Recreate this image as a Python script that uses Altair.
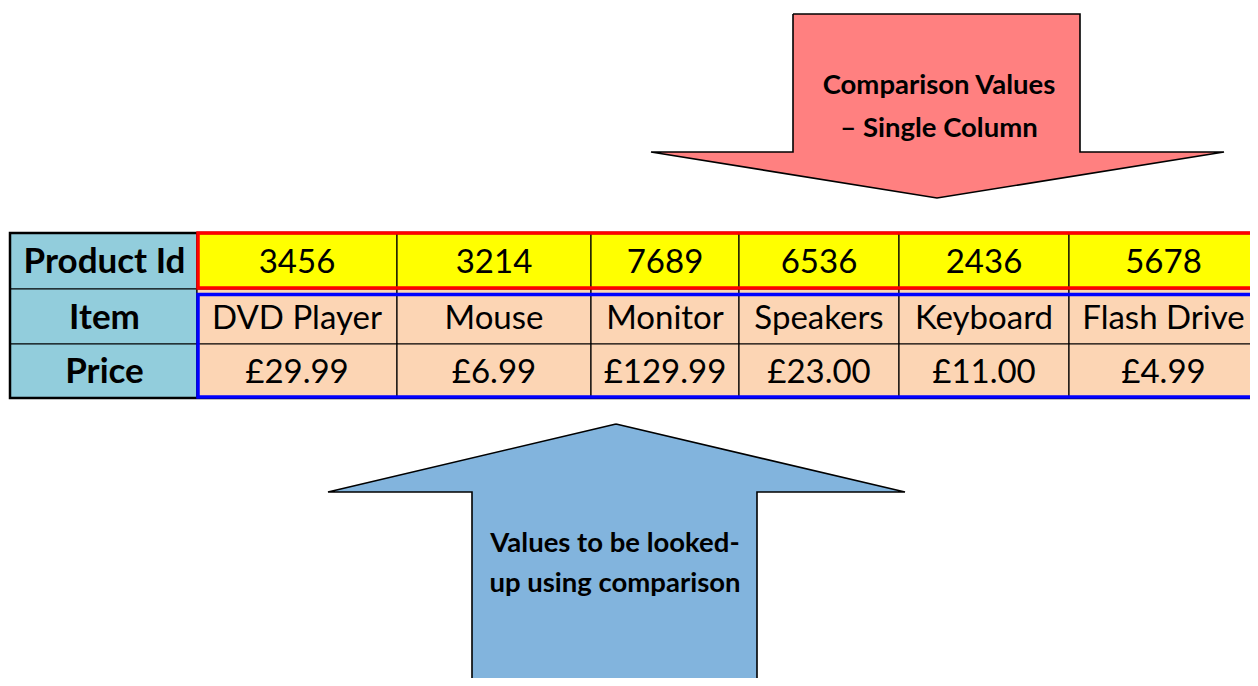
import altair as alt
import pandas as pd

# ---- data ----
row_headers = ["Product Id", "Item", "Price"]
product_ids = ["3456", "3214", "7689", "6536", "2436", "5678"]
items = ["DVD Player", "Mouse", "Monitor", "Speakers", "Keyboard", "Flash Drive"]
prices = ["£29.99", "£6.99", "£129.99", "£23.00", "£11.00", "£4.99"]
down_arrow_text = ["Comparison Values", "– Single Column"]
up_arrow_text = ["Values to be looked-", "up using comparison"]

# ---- layout (reference pixel coordinates) ----
col_edges = [10, 197, 397, 591, 739, 899, 1069, 1266]
row_edges = [233, 289, 344, 398]
row_fills = ["#FFFF00", "#FCD5B4", "#FCD5B4"]
header_fill = "#92CDDC"

down_arrow = [(793, 14), (1080, 14), (1080, 152), (1224, 152), (937, 198),
              (651, 152), (793, 152), (793, 14)]
up_arrow = [(616, 424), (905, 492), (757, 492), (757, 700), (472, 700),
            (472, 492), (328, 492), (616, 424)]

FONT = "Lato"
W, H = 1242, 670
xs = alt.Scale(domain=[8, 8 + W], nice=False, zero=False)
ys = alt.Scale(domain=[8, 8 + H], nice=False, zero=False, reverse=True)
X = lambda f: alt.X(f, type="quantitative", scale=xs, axis=None)
Y = lambda f: alt.Y(f, type="quantitative", scale=ys, axis=None)

# cells
rows = [product_ids, items, prices]
cells, header_txt, body_txt = [], [], []
for r in range(3):
    y0, y1 = row_edges[r], row_edges[r + 1]
    cells.append(dict(x=col_edges[0], x2=col_edges[1], y=y0, y2=y1, fill=header_fill))
    header_txt.append(dict(x=(col_edges[0] + col_edges[1]) / 2 + 1, y=(y0 + y1) / 2 + 1, t=row_headers[r]))
    for c, val in enumerate(rows[r]):
        xa, xb = col_edges[c + 1], col_edges[c + 2]
        cells.append(dict(x=xa, x2=xb, y=y0, y2=y1, fill=row_fills[r]))
        body_txt.append(dict(x=(xa + min(xb, 1258)) / 2, y=(y0 + y1) / 2 + 2, t=val))
cells = pd.DataFrame(cells)

cell_layer = alt.Chart(cells).mark_rect(stroke="black", strokeWidth=1.2).encode(
    x=X("x"), x2="x2", y=Y("y"), y2="y2",
    fill=alt.Fill("fill:N", scale=None))

outer = pd.DataFrame([dict(x=col_edges[0], x2=col_edges[-1], y=row_edges[0], y2=row_edges[-1])])
outer_layer = alt.Chart(outer).mark_rect(fillOpacity=0, stroke="black", strokeWidth=2.5).encode(
    x=X("x"), x2="x2", y=Y("y"), y2="y2")

borders = pd.DataFrame([
    dict(x=198, x2=1264, y=233, y2=288, c="#FF0000"),
    dict(x=198, x2=1264, y=294.5, y2=397, c="#0000FF"),
])
border_layer = alt.Chart(borders).mark_rect(fillOpacity=0, strokeWidth=3.5).encode(
    x=X("x"), x2="x2", y=Y("y"), y2="y2",
    stroke=alt.Stroke("c:N", scale=None))

header_layer = alt.Chart(pd.DataFrame(header_txt)).mark_text(
    font=FONT, fontSize=35, fontWeight="bold", color="black", baseline="middle").encode(
    x=X("x"), y=Y("y"), text="t:N")
body_layer = alt.Chart(pd.DataFrame(body_txt)).mark_text(
    font=FONT, fontSize=33, color="black", baseline="middle").encode(
    x=X("x"), y=Y("y"), text="t:N")

# arrows
poly = []
for name, pts, col in [("down", down_arrow, "#FF8080"), ("up", up_arrow, "#82B4DD")]:
    for i, (px, py) in enumerate(pts):
        poly.append(dict(shape=name, i=i, x=px, y=py, fill=col))
poly = pd.DataFrame(poly)
arrow_layers = []
for name in ["down", "up"]:
    d = poly[poly["shape"] == name]
    arrow_layers.append(alt.Chart(d).mark_line(
        fill=d["fill"].iloc[0], stroke="black", strokeWidth=1.6, strokeJoin="miter", interpolate="linear").encode(
        x=X("x"), y=Y("y"), order="i:Q"))

atxt = pd.DataFrame(
    [dict(x=939, y=86 + 43 * k, t=t) for k, t in enumerate(down_arrow_text)] +
    [dict(x=615, y=544 + 40 * k, t=t) for k, t in enumerate(up_arrow_text)])
atxt_layer = alt.Chart(atxt).mark_text(
    font=FONT, fontSize=27.5, fontWeight="bold", color="black", baseline="middle").encode(
    x=X("x"), y=Y("y"), text="t:N")

chart = alt.layer(*arrow_layers, cell_layer, outer_layer, border_layer,
                  header_layer, body_layer, atxt_layer).properties(
    width=W, height=H, padding=0, autosize=alt.AutoSizeParams(type="none")
).configure_view(stroke=None)

chart.save("out.html", embed_options={"renderer": "svg", "actions": False})
